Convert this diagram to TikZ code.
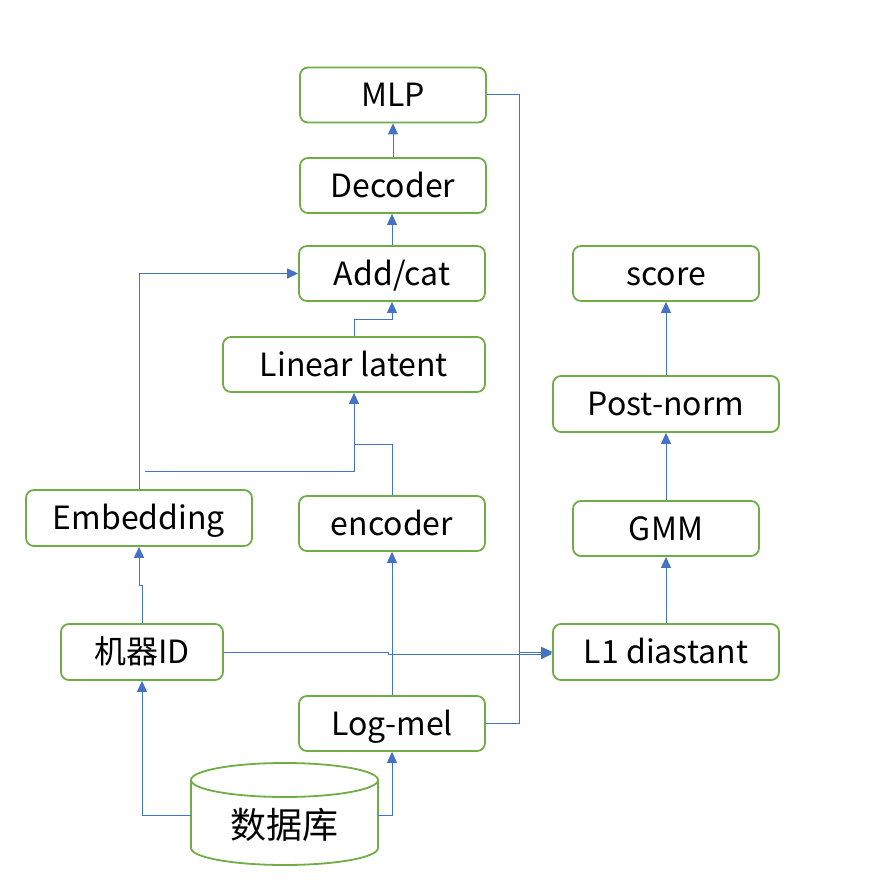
\documentclass[tikz,border=0pt]{standalone}
\usepackage{fontspec}
\setmainfont{Noto Sans CJK SC}
\usetikzlibrary{arrows.meta}
\definecolor{bgreen}{HTML}{70AD47}
\definecolor{lblue}{HTML}{4472C4}
\begin{document}
\begin{tikzpicture}[x=1pt,y=-1pt,
 box/.style={draw=bgreen, line width=1.8pt, rounded corners=8pt, inner sep=0pt, minimum height=55pt, text height=23.5pt, text depth=0pt, font=\fontsize{32}{38}\selectfont},
 conn/.style={draw=lblue, line width=1pt, -{Triangle[length=11pt,width=10pt]}},
 link/.style={draw=lblue, line width=1pt}]
\useasboundingbox (0,0) rectangle (894,882);
\fill[white] (0,0) rectangle (894,882);

\node[box, minimum width=186pt] (mlp) at (393,95) {MLP};
\node[box, minimum width=186pt] (dec) at (393,185.5) {Decoder};
\node[box, minimum width=186pt] (add) at (392,273.5) {Add/cat};
\node[box, minimum width=262pt] (lin) at (354,364.5) {Linear latent};
\node[box, minimum width=226pt, minimum height=56pt] (emb) at (139,518) {Embedding};
\node[box, minimum width=186pt] (enc) at (392,523.5) {encoder};
\node[box, minimum width=162pt, minimum height=56pt] (mid) at (142,652) {机器ID};
\node[box, minimum width=186pt] (log) at (392,723.5) {Log-mel};
\node[box, minimum width=186pt] (score) at (666,273.5) {score};
\node[box, minimum width=226pt, minimum height=56pt] (post) at (666,404) {Post-norm};
\node[box, minimum width=186pt] (gmm) at (666,528.5) {GMM};
\node[box, minimum width=226pt, minimum height=56pt] (l1) at (666,652) {L1 diastant};

% database cylinder
\draw[draw=bgreen, line width=1.8pt] (191,780) -- (191,848) arc[start angle=180, end angle=0, x radius=93.5, y radius=17] -- (378,780);
\draw[draw=bgreen, line width=1.8pt] (284.5,780) ellipse [x radius=93.5, y radius=17];
\node[inner sep=0pt, minimum width=187pt, minimum height=70pt, text height=46pt, text depth=0pt, font=\fontsize{36}{40}\selectfont] (db) at (284.5,815) {数据库};

\coordinate (fe) at (145,471);

\draw[conn] (dec.north) -- (mlp.south);
\draw[conn] (add.north) -- (add.north |- dec.south);
\draw[conn] (lin.north) -- (354,320) -| (add.south);
\draw[conn] (emb.north) |- (add.west);
\draw[conn] (fe) -| (lin.south);
\draw[link] (enc.north) |- (354,444);
\draw[conn] (mid.north) -- (142,585) -| (emb.south);
\draw[conn] (mid.east) -- (388,652) -- (388,654) -- (l1.west |- 388,654);
\draw[conn] (log.north) -- (enc.south);
\draw[conn] (mlp.east) -- (519,95) -- (519,652) -- (l1.west);
\draw[conn] (log.east) -- (519,723.5) -- (519,652) -- (l1.west);
\draw[conn] (db.west) -| (mid.south);
\draw[conn] (db.east) -| (log.south);
\draw[conn] (l1.north) -- (gmm.south);
\draw[conn] (gmm.north) -- (post.south);
\draw[conn] (post.north) -- (score.south);
\end{tikzpicture}
\end{document}
